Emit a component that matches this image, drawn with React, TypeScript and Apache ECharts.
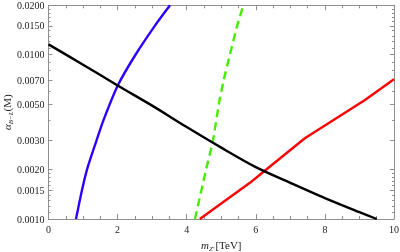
import React, { useEffect, useRef } from 'react';
import * as echarts from 'echarts';

// Axis ticks
const xTickValues = [0, 2, 4, 6, 8, 10];
const yTickValues = [0.001, 0.0015, 0.002, 0.003, 0.005, 0.007, 0.01, 0.015, 0.02];
const yMinorValues = [
  0.0011, 0.0012, 0.0013, 0.0014, 0.0016, 0.0017, 0.0018, 0.0019,
  0.004, 0.006, 0.008, 0.009,
  0.011, 0.012, 0.013, 0.014, 0.016, 0.017, 0.018, 0.019,
];

// Black curve
const blackX = [0, 1, 2, 3, 4, 5, 6, 7, 8, 9, 9.5];
const blackY = [0.01157, 0.0087, 0.0065, 0.0049, 0.00363, 0.00272, 0.00207, 0.00166, 0.00134, 0.0011, 0.001];

// Blue curve
const blueX = [0.796, 0.97, 1.114, 1.389, 1.592, 2.012, 2.518, 3.077, 3.517];
const blueY = [0.001, 0.0015, 0.002, 0.003, 0.004, 0.00654, 0.01, 0.015, 0.02];

// Green dashed curve
const greenX = [4.24, 4.56, 4.76, 4.93, 5.07, 5.25, 5.46, 5.64];
const greenY = [0.001, 0.002, 0.003, 0.005, 0.007, 0.01, 0.015, 0.02];

// Red curve
const redX = [4.38, 5.83, 6.25, 7.42, 9.16, 10];
const redY = [0.001, 0.00166, 0.00196, 0.0031, 0.0053, 0.0071];

const FONT = 'Liberation Serif';
const AXIS_COLOR = '#8f8f8f';
const TEXT_COLOR = '#222';

const lg = (v: number) => Math.log10(v);
const toData = (xs: number[], ys: number[]) => xs.map((x, i) => [x, lg(ys[i])]);

export default function App() {
  const ref = useRef<HTMLDivElement>(null);
  useEffect(() => {
    if (!ref.current) return;
    const chart = echarts.init(ref.current, null, { renderer: 'svg' });
    const yMin = lg(yTickValues[0]);
    const yMax = lg(yTickValues[yTickValues.length - 1]);
    const majorY = yTickValues.map(lg);
    const minorY = yMinorValues.map(lg);
    const baseX = {
      type: 'value' as const,
      min: xTickValues[0],
      max: xTickValues[xTickValues.length - 1],
      interval: 2,
      splitLine: { show: false },
      axisLine: { show: true, lineStyle: { color: AXIS_COLOR, width: 1 } },
      axisTick: { show: true, inside: true, length: 5, lineStyle: { color: AXIS_COLOR } },
      minorTick: { show: true, splitNumber: 4, length: 3, lineStyle: { color: AXIS_COLOR } },
    };
    const baseY = {
      type: 'value' as const,
      min: yMin,
      max: yMax,
      splitLine: { show: false },
    };
    const option: any = {
      animation: false,
      grid: { left: 48.5, right: 6, top: 5.3, bottom: 33, containLabel: false, outerBoundsMode: 'none' },
      xAxis: [
        {
          ...baseX,
          position: 'bottom',
          axisLabel: {
            show: true,
            margin: 5,
            fontFamily: FONT,
            fontSize: 10,
            color: TEXT_COLOR,
          },
          name: '{m|m}{s|Z′}{n|[TeV]}',
          nameLocation: 'middle',
          nameGap: 19,
          nameMoveOverlap: false,
          nameTextStyle: {
            fontFamily: FONT,
            fontSize: 11,
            color: TEXT_COLOR,
            rich: {
              m: { fontFamily: FONT, fontSize: 11, fontStyle: 'italic', color: TEXT_COLOR, lineHeight: 14 },
              s: { fontFamily: FONT, fontSize: 7, fontStyle: 'italic', color: TEXT_COLOR, verticalAlign: 'bottom', lineHeight: 14 },
              n: { fontFamily: FONT, fontSize: 11, color: TEXT_COLOR, lineHeight: 14, padding: [0, 0, 0, 1] },
            },
          },
        },
        {
          ...baseX,
          position: 'top',
          axisLabel: { show: false },
        },
      ],
      yAxis: [
        {
          ...baseY,
          position: 'left',
          axisLine: { show: true, lineStyle: { color: AXIS_COLOR, width: 1 } },
          axisTick: { show: true, inside: true, length: 4, customValues: majorY, lineStyle: { color: AXIS_COLOR } },
          axisLabel: {
            show: true,
            customValues: majorY,
            margin: 4,
            fontFamily: FONT,
            fontSize: 10,
            color: TEXT_COLOR,
            formatter: (v: number) => Math.pow(10, v).toFixed(4),
          },
          name: '{a|α}{s|B−L}{n|(M)}',
          nameLocation: 'middle',
          nameRotate: 90,
          nameGap: 34,
          nameMoveOverlap: false,
          nameTextStyle: {
            fontFamily: FONT,
            fontSize: 11,
            color: TEXT_COLOR,
            rich: {
              a: { fontFamily: FONT, fontSize: 11, fontStyle: 'italic', color: TEXT_COLOR, lineHeight: 15 },
              s: { fontFamily: FONT, fontSize: 7, fontStyle: 'italic', color: TEXT_COLOR, verticalAlign: 'bottom', lineHeight: 15 },
              n: { fontFamily: FONT, fontSize: 11, color: TEXT_COLOR, lineHeight: 15 },
            },
          },
        },
        {
          ...baseY,
          position: 'left',
          axisLine: { show: false },
          axisTick: { show: true, inside: true, length: 2, customValues: minorY, lineStyle: { color: AXIS_COLOR } },
          axisLabel: { show: false },
        },
        {
          ...baseY,
          position: 'right',
          axisLine: { show: true, lineStyle: { color: AXIS_COLOR, width: 1 } },
          axisTick: { show: true, inside: true, length: 4, customValues: majorY, lineStyle: { color: AXIS_COLOR } },
          axisLabel: { show: false },
        },
        {
          ...baseY,
          position: 'right',
          axisLine: { show: false },
          axisTick: { show: true, inside: true, length: 2, customValues: minorY, lineStyle: { color: AXIS_COLOR } },
          axisLabel: { show: false },
        },
      ],
      series: [
        {
          type: 'line',
          data: toData(blueX, blueY),
          smooth: 0.25,
          showSymbol: false,
          lineStyle: { color: '#2d00ff', width: 2.4 },
          z: 3,
        },
        {
          type: 'line',
          data: toData(greenX, greenY),
          smooth: 0.2,
          showSymbol: false,
          lineStyle: { color: '#44ee00', width: 2.4, type: [8, 5] },
          z: 3,
        },
        {
          type: 'line',
          data: toData(redX, redY),
          smooth: false,
          showSymbol: false,
          lineStyle: { color: '#ff0000', width: 2.4 },
          z: 3,
        },
        {
          type: 'line',
          data: toData(blackX, blackY),
          smooth: 0.3,
          showSymbol: false,
          lineStyle: { color: '#000000', width: 2.4 },
          z: 4,
        },
      ],
    };
    chart.setOption(option);
    return () => chart.dispose();
  }, []);
  return <div ref={ref} style={{ position: 'fixed', left: 0, top: 0, width: 400, height: 252 }} />;
}
